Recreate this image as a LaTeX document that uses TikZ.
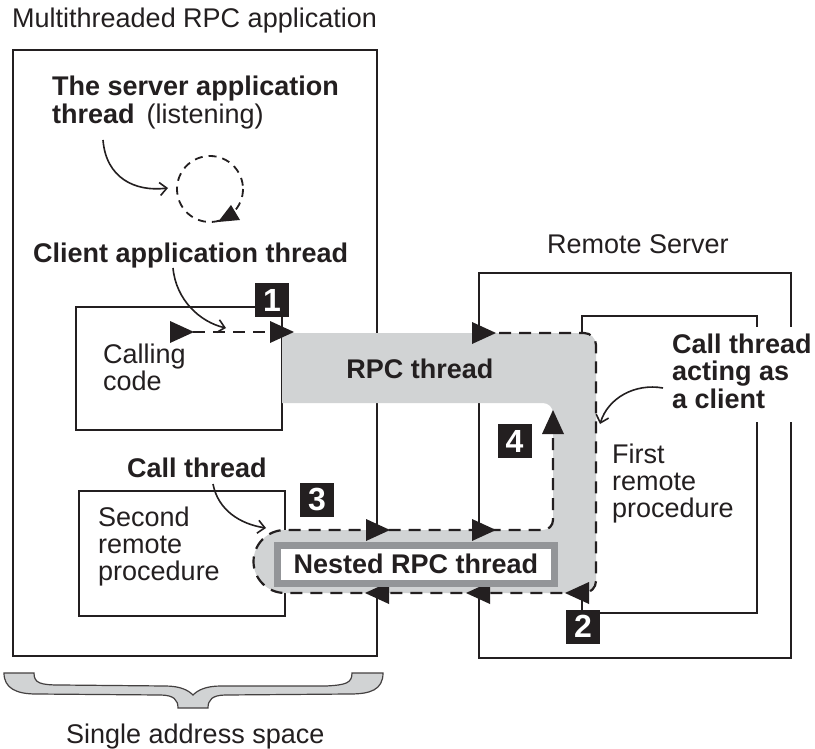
\documentclass[tikz,border=0pt]{standalone}
\usepackage{fontspec}
\setmainfont{Liberation Sans}
\usetikzlibrary{arrows.meta}
\definecolor{ink}{HTML}{231F20}
\definecolor{band}{HTML}{D1D3D4}
\definecolor{rim}{HTML}{939598}
\newcommand\rtri[2]{\fill[ink] (#1,#2) -- ++(-24,-11) -- ++(0,22) -- cycle;}
\newcommand\ltri[2]{\fill[ink] (#1,#2) -- ++(24,-11) -- ++(0,22) -- cycle;}
\newcommand\utri[2]{\fill[ink] (#1,#2) -- ++(-11,24) -- ++(22,0) -- cycle;}
\newcommand\txtsize{\fontsize{27}{27}\selectfont}
\begin{document}
\begin{tikzpicture}[x=1pt,y=-1pt,
  box/.style={draw=ink, line width=2.2pt, inner sep=0pt},
  route/.style={draw=ink, line width=2.2pt, dash pattern=on 12pt off 8pt},
  pointer/.style={draw=ink, line width=1.6pt, -{Straight Barb[length=7pt,width=13pt,line width=1.6pt]}},
  label/.style={anchor=base west, inner sep=0pt, text=ink, font=\txtsize},
  blabel/.style={anchor=base west, inner sep=0pt, text=ink, font=\txtsize\bfseries},
  numbox/.style={fill=ink, text=white, font=\fontsize{32}{32}\selectfont\bfseries, minimum size=34pt, inner sep=0pt},
]
\useasboundingbox (0,0) rectangle (815,749);
\fill[white] (0,0) rectangle (815,749);

% boxes
\node[box, minimum width=364pt, minimum height=606pt] (app) at (195,353) {};
\node[box, minimum width=206pt, minimum height=123pt] (calling) at (179,368.5) {};
\node[box, minimum width=206pt, minimum height=125pt] (second) at (182,553.5) {};
\node[box, minimum width=312pt, minimum height=385pt] (remote) at (635,465.5) {};
\node[box, minimum width=175pt, minimum height=297pt] (first) at (669.5,464.5) {};

% gray thread band
\fill[band] (282,333) -- (584,333) arc[start angle=270,end angle=360,radius=12]
  -- (596,581) arc[start angle=0,end angle=90,radius=12]
  -- (285,593) arc[start angle=90,end angle=270,radius=31.5]
  -- (543,530) arc[start angle=90,end angle=0,radius=10]
  -- (553,413) arc[start angle=0,end angle=-90,radius=10]
  -- (282,403) -- cycle;

% dashed route
\draw[route] (479,333) -- (584,333) arc[start angle=270,end angle=360,radius=12]
  -- (596,581) arc[start angle=0,end angle=90,radius=12]
  -- (285,593) arc[start angle=90,end angle=270,radius=31.5]
  -- (543,530) arc[start angle=90,end angle=0,radius=10]
  -- (553,420);
\rtri{496}{333}
\rtri{390}{530}
\rtri{496}{530}
\ltri{365}{593}
\ltri{466}{593}
\ltri{565}{593}
\utri{553}{410}

% calling code dashed arrow
\coordinate (cstart) at (193,332);
\coordinate (cend) at (272,332);
\draw[route] (cstart) -- (cend);
\rtri{194}{332}
\rtri{294}{332}

% nested RPC thread
\node[draw=rim, line width=7pt, fill=white, minimum width=277pt, minimum height=38pt,
  inner sep=0pt, text=ink, font=\txtsize\bfseries] (nested) at (416,564) {Nested RPC thread};

% listening circle
\draw[ink, line width=1.8pt, dash pattern=on 8pt off 6pt] (210,189) circle[radius=33];
\fill[ink] (218,222) -- (231,205) -- (240,220) -- cycle;

% number boxes
\node[numbox] (n1) at (272,300) {1};
\node[numbox] (n2) at (583,626.5) {2};
\node[numbox] (n3) at (317,500) {3};
\node[numbox] (n4) at (514.5,441) {4};

% texts
\node[label] (title) at (12,28) {Multithreaded RPC application};
\node[label] (srv) at (52,96) {\fontsize{27}{26}\selectfont\begin{tabular}[t]{@{}l@{}}\textbf{The server application}\\\textbf{thread}\hspace{12pt}(listening)\end{tabular}};
\node[blabel] (cli) at (33,262) {Client application thread};
\node[label] (callingtxt) at (103,363) {\fontsize{27}{25}\selectfont\begin{tabular}[t]{@{}l@{}}Calling\\code\end{tabular}};
\node[anchor=base, inner sep=0pt, text=ink, font=\txtsize\bfseries] (rpc) at (420,378) {RPC thread};
\node[blabel] (callthr) at (127,477) {Call thread};
\node[label] (secondtxt) at (98,526) {\begin{tabular}[t]{@{}l@{}}Second\\remote\\procedure\end{tabular}};
\node[label] (firsttxt) at (612,463) {\begin{tabular}[t]{@{}l@{}}First\\remote\\procedure\end{tabular}};
\node[blabel, fill=white, inner xsep=4pt, inner ysep=6pt] (acting) at (668,353) {\begin{tabular}[t]{@{}l@{}}Call thread\\acting as\\a client\end{tabular}};
\node[label] (remtxt) at (547,254) {Remote Server};
\node[label] (single) at (66,743) {Single address space};

% pointer curves
\coordinate (p1) at (168,188);
\coordinate (p2) at (226,328);
\coordinate (p3) at (266,528);
\coordinate (p4) at (600,424);
\draw[pointer] (103,140) .. controls (106,178) and (135,192) .. (p1);
\draw[pointer] (173,268) .. controls (176,300) and (200,322) .. (p2);
\draw[pointer] (213,484) .. controls (218,510) and (240,524) .. (p3);
\draw[pointer] (663,388) .. controls (635,383) and (608,398) .. (p4);

% brace
\filldraw[fill=band, draw=ink!85, line width=1.2pt] (4,673) -- (34,673)
  .. controls (34,683) and (40,685) .. (60,685) -- (165,686)
  .. controls (180,686) and (188,690) .. (193,695)
  .. controls (198,690) and (206,686) .. (221,686) -- (326,686)
  .. controls (346,685) and (352,683) .. (352,673) -- (383,673)
  .. controls (383,690) and (370,694) .. (350,694) -- (226,695)
  .. controls (212,695) and (208,700) .. (208,708) -- (178,708)
  .. controls (178,700) and (174,695) .. (160,695) -- (36,694)
  .. controls (16,694) and (4,688) .. (4,673) -- cycle;
\end{tikzpicture}
\end{document}
